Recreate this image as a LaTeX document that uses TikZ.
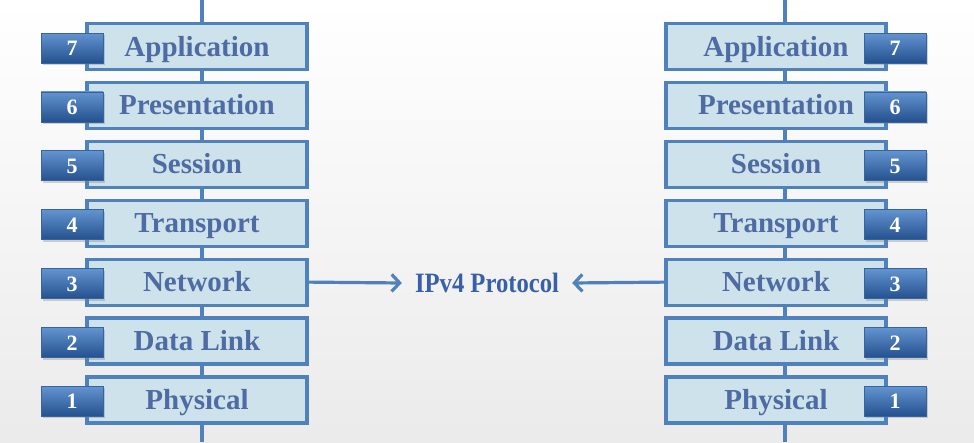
\documentclass[tikz,border=0pt]{standalone}
\usepackage{fontspec}
\setmainfont{Liberation Serif}
\newfontfamily\ipfont[FakeStretch=0.88]{Liberation Serif}
\usetikzlibrary{arrows.meta,shadows}
\definecolor{layerfill}{RGB}{205,226,234}
\definecolor{layerline}{RGB}{79,129,189}
\definecolor{layertext}{RGB}{78,108,163}
\definecolor{tabtop}{RGB}{98,148,208}
\definecolor{tabbot}{RGB}{36,80,142}
\definecolor{iptext}{RGB}{55,96,168}

\begin{document}
\begin{tikzpicture}[x=1pt,y=-1pt,
        layer/.style={draw=layerline,line width=3.2pt,fill=layerfill,minimum width=220pt,minimum height=46pt,
            inner sep=0pt,text height=19pt,text depth=0pt,text=layertext,font=\fontsize{29}{32}\selectfont\bfseries},
        tab/.style={draw=tabbot!60!layerline,line width=0.8pt,top color=tabtop,bottom color=tabbot,
            minimum width=62pt,minimum height=30pt,inner sep=0pt,text height=15pt,text depth=0pt,
            text=white,font=\fontsize{22}{24}\selectfont\bfseries,
            drop shadow={shadow xshift=1.5pt,shadow yshift=-2pt,opacity=.35}},
        stack/.style={draw=layerline,line width=3.5pt},
        link/.style={draw=layerline,line width=3.2pt,-{Straight Barb[length=8pt,width=17pt]}}]

    % background
    \shade[top color=white,bottom color=black!8] (0,0) rectangle (974,442);
    \useasboundingbox (0,0) rectangle (974,442);

    % the two stacks
    \coordinate (ltop) at (202,0);
    \coordinate (lbot) at (202,442);
    \coordinate (rtop) at (785,0);
    \coordinate (rbot) at (785,442);
    \draw[stack] (ltop) -- (lbot);
    \draw[stack] (rtop) -- (rbot);

    \foreach \n/\name [count=\i] in {7/Application,6/Presentation,5/Session,4/Transport,3/Network,2/Data Link,1/Physical}{
        \node[layer] (L\n) at (197,{46.5+58.9*(\i-1)}) {\name};
        \node[tab] (nL\n) at (72,{48+58.9*(\i-1)}) {\n};
        \node[layer] (R\n) at (776,{46.5+58.9*(\i-1)}) {\name};
        \node[tab] (nR\n) at (895,{48+58.9*(\i-1)}) {\n};
    }

    % protocol
    \node[inner xsep=13pt,text=iptext,font=\ipfont\fontsize{28}{30}\selectfont\bfseries] (ip) at (487,283) {IPv4 Protocol};
    \draw[link] (L3.east) -- (ip.west);
    \draw[link] (R3.west) -- (ip.east);
\end{tikzpicture}
\end{document}
